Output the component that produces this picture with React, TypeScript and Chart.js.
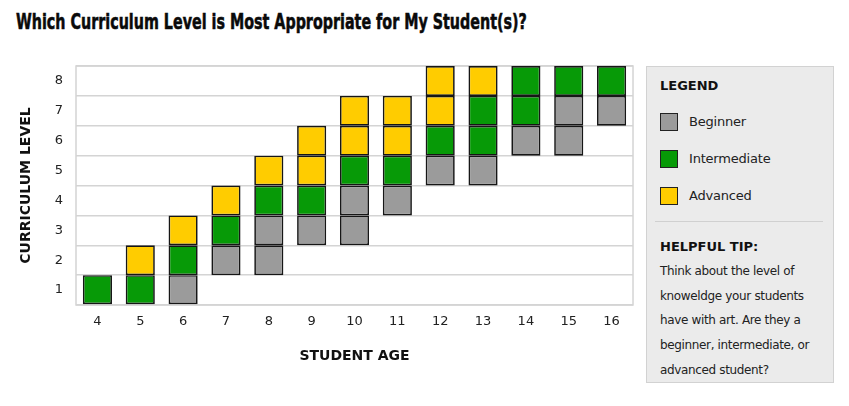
import React, { useEffect, useLayoutEffect, useRef } from "react";
import { Chart, registerables } from "chart.js";

Chart.register(...registerables);

const ages = ["4", "5", "6", "7", "8", "9", "10", "11", "12", "13", "14", "15", "16"];
const levelLabels = ["1", "2", "3", "4", "5", "6", "7", "8"];
// [lowest level, highest level] of each group per age, null when absent
const beginnerRange: ([number, number] | null)[] = [null, null, [1, 1], [2, 2], [2, 3], [3, 3], [3, 4], [4, 4], [5, 5], [5, 5], [6, 6], [6, 7], [7, 7]];
const intermediateRange: ([number, number] | null)[] = [[1, 1], [1, 1], [2, 2], [3, 3], [4, 4], [4, 4], [5, 5], [5, 5], [6, 6], [6, 7], [7, 8], [8, 8], [8, 8]];
const advancedRange: ([number, number] | null)[] = [null, [2, 2], [3, 3], [4, 4], [5, 5], [5, 6], [6, 7], [6, 7], [7, 8], [8, 8], null, null, null];
const groupNames = ["Beginner", "Intermediate", "Advanced"];
const groupColors = ["#9b9b9b", "#079a07", "#ffcc00"];

const FONT = '"DejaVu Sans", Verdana, sans-serif';

const borderPlugin = {
  id: "plotBorder",
  beforeDatasetsDraw(chart: any) {
    const { ctx, chartArea } = chart;
    ctx.save();
    ctx.strokeStyle = "#d4d4d4";
    ctx.lineWidth = 1.5;
    ctx.strokeRect(chartArea.left, chartArea.top, chartArea.right - chartArea.left, chartArea.bottom - chartArea.top);
    ctx.restore();
  },
};

function buildDatasets() {
  const ranges = [beginnerRange, intermediateRange, advancedRange];
  return levelLabels.map((lvl, li) => {
    const level = li + 1;
    const data: ([number, number] | null)[] = [];
    const colors: string[] = [];
    ages.forEach((_, ai) => {
      let found = -1;
      ranges.forEach((r, gi) => {
        const v = r[ai];
        if (v && level >= v[0] && level <= v[1]) found = gi;
      });
      if (found >= 0) {
        data.push([level - 1, level]);
        colors.push(groupColors[found]);
      } else {
        data.push(null);
        colors.push("rgba(0,0,0,0)");
      }
    });
    return {
      label: "Level " + lvl,
      data,
      backgroundColor: colors,
      borderColor: "#161616",
      borderWidth: 1.7,
      borderSkipped: false,
      grouped: false,
      barPercentage: 0.68,
      categoryPercentage: 1,
    } as any;
  });
}

export default function App() {
  const canvasRef = useRef<HTMLCanvasElement>(null);
  const titleRef = useRef<HTMLSpanElement>(null);

  useLayoutEffect(() => {
    document.body.style.margin = "0";
    const t = titleRef.current;
    if (t) {
      const w = t.scrollWidth;
      if (w > 0) t.style.transform = `scaleX(${511 / w})`;
    }
  }, []);

  useEffect(() => {
    if (!canvasRef.current) return;
    const chart = new Chart(canvasRef.current, {
      type: "bar",
      data: { labels: ages, datasets: buildDatasets() },
      options: {
        animation: false,
        responsive: false,
        maintainAspectRatio: false,
        layout: { padding: { top: 16, right: 7, left: 0, bottom: 0 } },
        plugins: { legend: { display: false }, tooltip: { enabled: false } },
        scales: {
          x: {
            grid: { display: false, drawTicks: false },
            border: { display: false },
            ticks: { color: "#222", font: { family: FONT, size: 13 }, padding: 9 },
            title: {
              display: true,
              text: "STUDENT AGE",
              color: "#111",
              font: { family: FONT, size: 14, weight: "bold" },
              padding: { top: 0, bottom: 20 },
            },
            afterFit: (s: any) => {
              s.height = 80;
              s.paddingLeft = 0;
              s.paddingRight = 0;
            },
          },
          y: {
            min: 0,
            max: 8,
            grid: { color: "#d4d4d4", lineWidth: 1.5, drawTicks: false },
            border: { display: false },
            ticks: {
              stepSize: 1,
              color: "#222",
              font: { family: FONT, size: 13 },
              padding: 13,
              labelOffset: -15,
              callback: (v: any) => (v >= 0 && v < 8 ? levelLabels[v] : ""),
            },
            title: {
              display: true,
              text: "CURRICULUM LEVEL",
              color: "#111",
              font: { family: FONT, size: 14, weight: "bold" },
              padding: { top: 18, bottom: 0 },
            },
            afterFit: (s: any) => {
              s.width = 76;
              s.paddingTop = 0;
              s.paddingBottom = 0;
            },
          },
        },
      } as any,
      plugins: [borderPlugin],
    });
    return () => chart.destroy();
  }, []);

  const tipLines = [
    "Think about the level of",
    "knoweldge your students",
    "have with art. Are they a",
    "beginner, intermediate, or",
    "advanced student?",
  ];

  return (
    <div style={{ position: "relative", width: 849, height: 406, background: "#fff", fontFamily: FONT, overflow: "hidden" }}>
      <div style={{ position: "absolute", left: 16, top: 9, whiteSpace: "nowrap" }}>
        <span
          ref={titleRef}
          style={{ display: "inline-block", transformOrigin: "left center", fontSize: 22, fontWeight: 900, color: "#0a0a0a", lineHeight: "26px", WebkitTextStroke: "0.6px #0a0a0a" }}
        >
          Which Curriculum Level is Most Appropriate for My Student(s)?
        </span>
      </div>
      <div style={{ position: "absolute", left: 0, top: 50, width: 640, height: 335 }}>
        <canvas ref={canvasRef} width={640} height={335} style={{ width: 640, height: 335 }} />
      </div>
      <div
        style={{
          position: "absolute",
          left: 646,
          top: 66,
          width: 186,
          height: 315,
          background: "#ebebeb",
          border: "1px solid #d2d2d2",
          color: "#222",
        }}
      >
        <div style={{ position: "absolute", left: 13, top: 11, fontSize: 13, fontWeight: "bold", color: "#111" }}>LEGEND</div>
        {groupNames.map((name, i) => (
          <div key={name} style={{ position: "absolute", left: 13, top: 45 + i * 37, height: 19, display: "flex", alignItems: "center" }}>
            <div style={{ width: 16, height: 16, background: groupColors[i], border: "1.5px solid #222" }} />
            <span style={{ marginLeft: 11, fontSize: 13, letterSpacing: -0.2, color: "#222" }}>{name}</span>
          </div>
        ))}
        <div style={{ position: "absolute", left: 8, top: 154, width: 168, height: 1, background: "#d0d0d0" }} />
        <div style={{ position: "absolute", left: 13, top: 172, fontSize: 13, fontWeight: "bold", color: "#111" }}>HELPFUL TIP:</div>
        {tipLines.map((line, i) => (
          <div key={i} style={{ position: "absolute", left: 13, top: 197 + i * 24.7, fontSize: 12, letterSpacing: -0.35, color: "#222", whiteSpace: "nowrap" }}>
            {line}
          </div>
        ))}
      </div>
    </div>
  );
}
